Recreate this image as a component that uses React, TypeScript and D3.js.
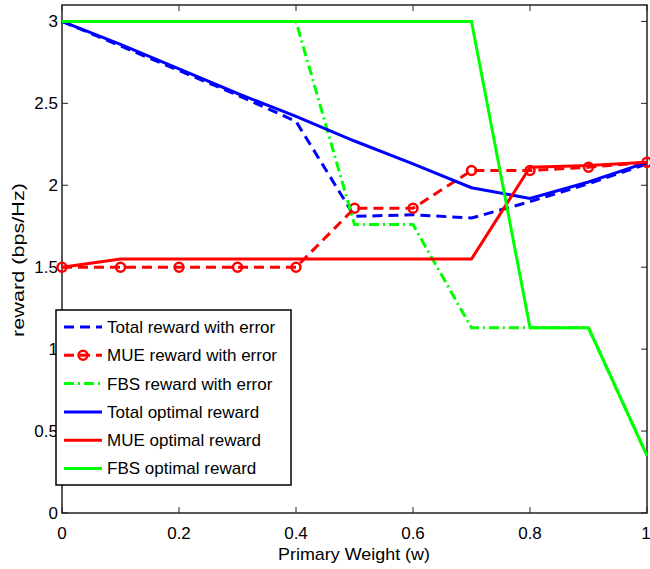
import React from "react";
import * as d3 from "d3";

const weights = [0, 0.1, 0.2, 0.3, 0.4, 0.5, 0.6, 0.7, 0.8, 0.9, 1.0];
const totalError = [3.0, 2.85, 2.7, 2.55, 2.39, 1.81, 1.82, 1.8, 1.9, 2.01, 2.13];
const mueError = [1.5, 1.5, 1.5, 1.5, 1.5, 1.86, 1.86, 2.09, 2.09, 2.11, 2.14];
const fbsError = [3.0, 3.0, 3.0, 3.0, 3.0, 1.76, 1.76, 1.13, 1.13, 1.13, 0.35];
const totalOptimal = [3.0, 2.86, 2.71, 2.56, 2.42, 2.27, 2.13, 1.985, 1.92, 2.02, 2.14];
const mueOptimal = [1.5, 1.55, 1.55, 1.55, 1.55, 1.55, 1.55, 1.55, 2.11, 2.12, 2.14];
const fbsOptimal = [3.0, 3.0, 3.0, 3.0, 3.0, 3.0, 3.0, 3.0, 1.13, 1.13, 0.35];

const xTicks = [0, 0.2, 0.4, 0.6, 0.8, 1];
const yTicks = [0, 0.5, 1, 1.5, 2, 2.5, 3];

const seriesNames = [
  "Total reward with error",
  "MUE reward with error",
  "FBS reward with error",
  "Total optimal reward",
  "MUE optimal reward",
  "FBS optimal reward",
];

const BLUE = "#0000ff";
const RED = "#ff0000";
const GREEN = "#00ff00";

export default function App() {
  const W = 650, H = 569;
  const left = 62, right = 647, top = 5, bottom = 513;
  const x = d3.scaleLinear().domain([0, 1]).range([left, right]);
  const y = d3.scaleLinear().domain([0, 3.1]).range([bottom, top]);
  const line = d3.line<number>().x((_, i) => x(weights[i])).y((v) => y(v));

  const series = [
    { name: seriesNames[0], data: totalError, color: BLUE, dash: "10,6", marker: false },
    { name: seriesNames[1], data: mueError, color: RED, dash: "10,6", marker: true },
    { name: seriesNames[2], data: fbsError, color: GREEN, dash: "10,4,2,4", marker: false },
    { name: seriesNames[3], data: totalOptimal, color: BLUE, dash: undefined, marker: false },
    { name: seriesNames[4], data: mueOptimal, color: RED, dash: undefined, marker: false },
    { name: seriesNames[5], data: fbsOptimal, color: GREEN, dash: undefined, marker: false },
  ];

  const font = "'Liberation Sans', Arial, sans-serif";
  const axisColor = "#222";
  const tickLen = 6;

  const legX = 56, legY = 310, legW = 235, legH = 175;
  const rowY0 = 327, rowStep = 28.3;

  return (
    <div style={{ position: "absolute", left: 0, top: 0 }}>
      <svg width={W} height={H} style={{ display: "block", background: "#fff" }} fontFamily={font}>
        <rect x={0} y={0} width={W} height={H} fill="#fff" />
        <rect x={left} y={top} width={right - left} height={bottom - top} fill="none" stroke={axisColor} strokeWidth={1.5} />
        {xTicks.map((t) => (
          <g key={"xt" + t}>
            <line x1={x(t)} x2={x(t)} y1={bottom} y2={bottom - tickLen} stroke={axisColor} strokeWidth={1} />
            <line x1={x(t)} x2={x(t)} y1={top} y2={top + tickLen} stroke={axisColor} strokeWidth={1} />
            <text x={t === 1 ? x(t) - 1 : x(t)} y={539} fontSize={17} textAnchor="middle" fill="#000">{String(t)}</text>
          </g>
        ))}
        {yTicks.map((t) => (
          <g key={"yt" + t}>
            <line x1={left} x2={left + tickLen} y1={y(t)} y2={y(t)} stroke={axisColor} strokeWidth={1} />
            <line x1={right} x2={right - tickLen} y1={y(t)} y2={y(t)} stroke={axisColor} strokeWidth={1} />
            <text x={58} y={y(t)} dy="0.35em" fontSize={17} textAnchor="end" fill="#000">{String(t)}</text>
          </g>
        ))}
        <text x={354} y={560} fontSize={17} textAnchor="middle" fill="#000" textLength={152} lengthAdjust="spacingAndGlyphs">Primary Weight (w)</text>
        <text transform="translate(24,260) rotate(-90)" fontSize={17} textAnchor="middle" fill="#000" textLength={154} lengthAdjust="spacingAndGlyphs">reward (bps/Hz)</text>

        {series.map((s) => (
          <g key={s.name}>
            <path d={line(s.data) || ""} fill="none" stroke={s.color} strokeWidth={3} strokeDasharray={s.dash} strokeLinejoin="miter" />
            {s.marker && s.data.map((v, i) => (
              <circle key={i} cx={x(weights[i])} cy={y(v)} r={4.5} fill="none" stroke={s.color} strokeWidth={2.5} />
            ))}
          </g>
        ))}

        <rect x={legX} y={legY} width={legW} height={legH} fill="#fff" stroke="#000" strokeWidth={1.5} />
        {series.map((s, i) => {
          const ry = rowY0 + i * rowStep;
          return (
            <g key={"lg" + i}>
              <line x1={64} x2={102} y1={ry} y2={ry} stroke={s.color} strokeWidth={3} strokeDasharray={s.dash} />
              {s.marker && <circle cx={83} cy={ry} r={4.5} fill="none" stroke={s.color} strokeWidth={2.5} />}
              <text x={107} y={ry} dy="0.35em" fontSize={17} fill="#000">{s.name}</text>
            </g>
          );
        })}
      </svg>
    </div>
  );
}
